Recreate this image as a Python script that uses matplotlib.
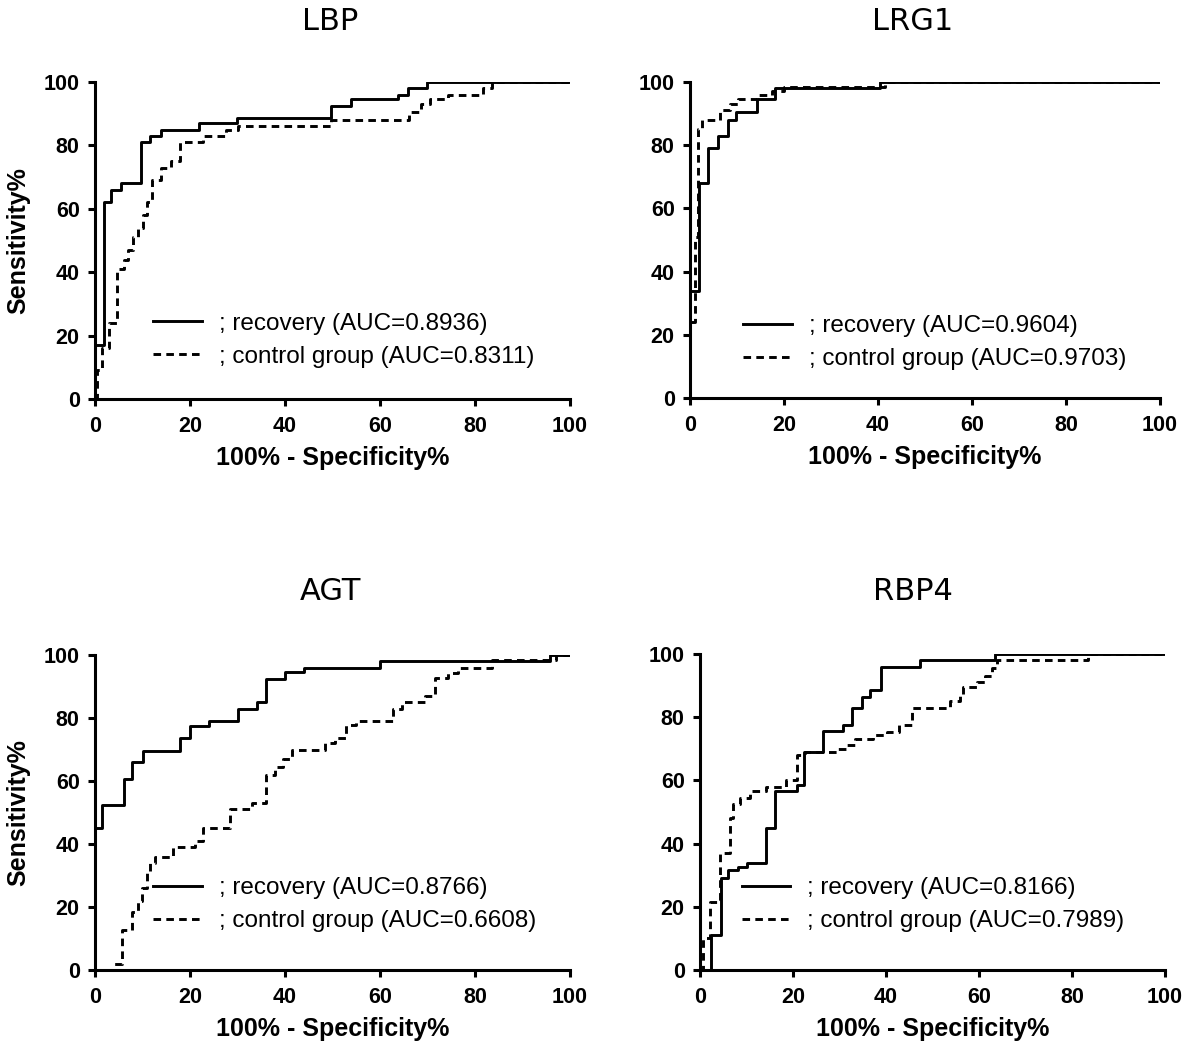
import matplotlib
matplotlib.use("Agg")
import matplotlib.pyplot as plt

# ROC staircase corners: (100% - specificity, sensitivity), drawn with steps-post
lbp_rec_x = [0, 0, 1.8, 3.3, 5.4, 9.7, 11.5, 13.9, 21.9, 29.9, 49.7, 53.9, 63.7, 65.8, 69.8, 100]
lbp_rec_y = [0, 17, 62, 66, 68, 81, 83, 85, 87, 88.5, 92.5, 94.5, 96, 98, 100, 100]
lbp_ctl_x = [0, 0.5, 1.5, 3, 4.7, 6, 7, 8, 9, 10, 11, 11.9, 13.9, 15.9, 17.9, 22.8, 27.6, 30,
             49.7, 66.2, 68.7, 70.5, 74.3, 81.7, 83.5, 100]
lbp_ctl_y = [0, 9, 16, 24, 41, 44, 47, 51, 54, 58, 62, 69, 73, 75, 81, 83, 85, 86,
             88, 90.5, 93, 94.5, 96, 98, 100, 100]

lrg_rec_x = [0, 0, 1.9, 3.9, 6.0, 8.0, 9.8, 14.2, 18.1, 40.4, 100]
lrg_rec_y = [0, 34, 68, 79, 83, 88, 90.5, 94.5, 98, 100, 100]
lrg_ctl_x = [0, 0, 1.0, 1.6, 2.5, 6.4, 8.5, 10.3, 14.2, 17.4, 19.9, 41.5, 100]
lrg_ctl_y = [0, 24, 51, 85, 88, 91, 93, 94.5, 96, 97, 98.3, 100, 100]

agt_rec_x = [0, 0, 1.5, 6, 7.7, 10, 17.9, 20, 24, 30, 34, 36, 40, 44, 60, 95.8, 100]
agt_rec_y = [0, 45, 52.5, 60.5, 66, 69.5, 73.5, 77.5, 79, 83, 85, 92.5, 94.5, 96, 98, 100, 100]
agt_ctl_x = [0, 3.9, 5.6, 7.7, 9.1, 9.8, 10.9, 11.5, 12.6, 16.5, 21.1, 22.8, 28.4, 33, 36.1,
             37.9, 39.6, 41.4, 48.4, 50.5, 52.9, 55, 62.8, 64.6, 69.5, 71.6, 74.4, 76.5,
             83.5, 97, 100]
agt_ctl_y = [0, 2, 12.7, 18.5, 22, 26, 31, 34, 36, 39, 41, 45, 51, 53, 62,
             64.3, 67, 69.8, 72, 73.5, 77.8, 79, 83, 85, 87, 92.6, 94.2, 96,
             98.4, 100, 100]

rbp_rec_x = [0, 2.3, 4.5, 6.1, 8.1, 10, 14.3, 16.1, 20.8, 22.4, 26.5, 30.8, 32.6, 34.8,
             36.6, 39, 47.3, 63.4, 100]
rbp_rec_y = [0, 11, 29, 31.5, 32.5, 34, 45, 56.5, 58.5, 69, 75.5, 77.5, 83, 86.5,
             88.5, 96, 98, 100, 100]
rbp_ctl_x = [0, 0.7, 2.2, 4.2, 6.5, 7, 8.6, 10.8, 14.3, 18.6, 20.8, 22.6, 29.4, 31.5, 33.3,
             37.3, 40.2, 42.7, 45.5, 53.8, 55.9, 56.6, 59.5, 61.3, 62.7, 63.8, 83.4, 100]
rbp_ctl_y = [0, 10, 21.6, 37, 48, 52.5, 54.5, 56.5, 58, 60, 68, 69, 70, 71.3, 73.2,
             74.4, 75.3, 77.6, 83, 85, 87, 89.7, 91, 93, 95.6, 98, 100, 100]

titles = ["LBP", "LRG1", "AGT", "RBP4"]
auc_rec = ["0.8936", "0.9604", "0.8766", "0.8166"]
auc_ctl = ["0.8311", "0.9703", "0.6608", "0.7989"]
ticks = [0, 20, 40, 60, 80, 100]

W, H = 1203, 1047
# axes boxes in pixels: left, top, right, bottom
boxes = [(95, 82, 570, 399), (690, 82, 1160, 398), (95, 655, 570, 970), (700, 654, 1165, 970)]
title_pos = [(330, 22), (913, 22), (330, 592), (913, 592)]
legend_anchor = [(0.122, 0.185), (0.113, 0.175), (0.122, 0.207), (0.09, 0.206)]
curves = [
    (lbp_rec_x, lbp_rec_y, lbp_ctl_x, lbp_ctl_y),
    (lrg_rec_x, lrg_rec_y, lrg_ctl_x, lrg_ctl_y),
    (agt_rec_x, agt_rec_y, agt_ctl_x, agt_ctl_y),
    (rbp_rec_x, rbp_rec_y, rbp_ctl_x, rbp_ctl_y),
]

bold = dict(family="Liberation Sans", weight="bold")
fig = plt.figure(figsize=(W / 100, H / 100), dpi=100)

for i, (l, t, r, b) in enumerate(boxes):
    ax = fig.add_axes([l / W, 1 - b / H, (r - l) / W, (b - t) / H])
    rx, ry, cx, cy = curves[i]
    ax.plot(rx, ry, drawstyle="steps-post", color="black", lw=2.1,
            label=f"; recovery (AUC={auc_rec[i]})")
    ax.plot(cx, cy, drawstyle="steps-post", color="black", lw=2.1,
            linestyle=(0, (2.6, 1.8)), label=f"; control group (AUC={auc_ctl[i]})")
    ax.set_xlim(0, 100)
    ax.set_ylim(0, 100)
    ax.set_xticks(ticks)
    ax.set_yticks(ticks)
    for s in ["top", "right"]:
        ax.spines[s].set_visible(False)
    for s in ["left", "bottom"]:
        ax.spines[s].set_linewidth(2.2)
    ax.tick_params(direction="out", length=5, width=2.2)
    ax.tick_params(axis="x", pad=7)
    ax.tick_params(axis="y", pad=6)
    for lab in ax.get_xticklabels() + ax.get_yticklabels():
        lab.set_fontproperties(dict(bold, size=15.5))
    ax.set_xlabel("100% - Specificity%", fontdict=dict(bold, size=18), labelpad=7)
    if i % 2 == 0:
        ax.set_ylabel("Sensitivity%", fontdict=dict(bold, size=18), labelpad=10)
    ax.legend(loc="center left", bbox_to_anchor=legend_anchor[i], frameon=False,
              borderpad=0, borderaxespad=0, handlelength=2.0, handletextpad=0.7,
              labelspacing=0.45, prop=dict(family="Liberation Sans", size=17.5))
    tx, ty = title_pos[i]
    fig.text(tx / W, 1 - ty / H, titles[i], ha="center", va="center",
             fontsize=22, family="DejaVu Sans")

fig.savefig("out.png", dpi=100, facecolor="white")
